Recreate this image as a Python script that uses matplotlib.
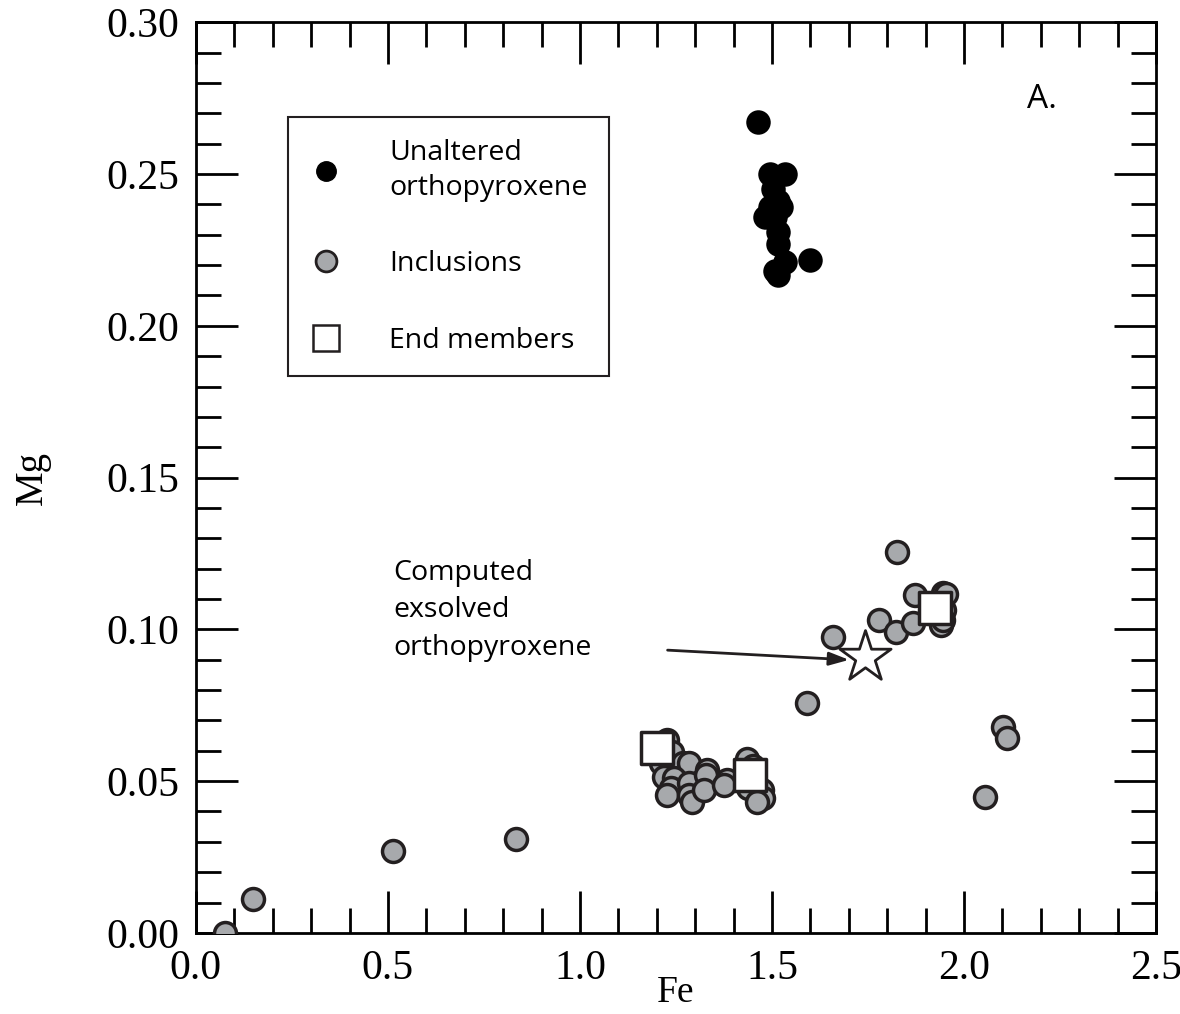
import matplotlib.pyplot as plt
from matplotlib.lines import Line2D

# unaltered orthopyroxene (black)
opx_fe = [1.463, 1.495, 1.534, 1.503, 1.516, 1.495, 1.523, 1.482, 1.508, 1.516, 1.516, 1.534, 1.508, 1.516, 1.599]
opx_mg = [0.267, 0.250, 0.250, 0.245, 0.241, 0.239, 0.239, 0.236, 0.236, 0.231, 0.227, 0.221, 0.218, 0.2167, 0.2216]

# inclusions (grey)
inc_fe = [0.076, 0.148, 0.513, 0.833,
          1.227, 1.240, 1.211, 1.268, 1.284, 1.219, 1.245, 1.237, 1.284, 1.227, 1.284, 1.292,
          1.331, 1.328, 1.323, 1.383, 1.375, 1.435, 1.451, 1.438, 1.474, 1.477, 1.461,
          1.591, 1.659, 1.779, 1.823, 1.867, 1.826, 1.872, 1.945, 1.953, 1.948, 1.940, 1.945,
          2.055, 2.102, 2.112]
inc_mg = [0.000, 0.011, 0.027, 0.031,
          0.0635, 0.0596, 0.056, 0.056, 0.056, 0.0514, 0.051, 0.0478, 0.0494, 0.0455, 0.0455, 0.0431,
          0.0537, 0.052, 0.0471, 0.0504, 0.0488, 0.0573, 0.0550, 0.0478, 0.0471, 0.0445, 0.0431,
          0.0757, 0.0975, 0.103, 0.099, 0.102, 0.1255, 0.1113, 0.112, 0.1115, 0.1063, 0.1014, 0.103,
          0.0448, 0.0678, 0.0642]

# end members (squares)
end_fe = [1.200, 1.443, 1.924]
end_mg = [0.061, 0.052, 0.107]

# computed exsolved orthopyroxene (star)
star_fe = [1.742]
star_mg = [0.0909]

plt.rcParams['font.family'] = 'Liberation Serif'
fig = plt.figure(figsize=(11.8, 10.14), dpi=100)
ax = fig.add_axes([0.166, 0.08, 0.8137, 0.898])

ax.scatter(opx_fe, opx_mg, s=260, c='black', edgecolors='black', linewidths=1.5, zorder=3)
ax.scatter(inc_fe, inc_mg, s=250, c='#a7a9ac', edgecolors='#231f20', linewidths=2.5, zorder=3)
ax.scatter(end_fe, end_mg, s=520, marker='s', c='white', edgecolors='#231f20', linewidths=2.5, zorder=4)
ax.scatter(star_fe, star_mg, s=1500, marker='*', c='white', edgecolors='#231f20', linewidths=2, zorder=4)

ax.set_xlim(0, 2.5)
ax.set_ylim(0, 0.30)
ax.set_xticks([0, 0.5, 1.0, 1.5, 2.0, 2.5])
ax.set_xticks([i * 0.1 for i in range(26)], minor=True)
ax.set_yticks([0, 0.05, 0.10, 0.15, 0.20, 0.25, 0.30])
ax.set_yticks([i * 0.01 for i in range(31)], minor=True)
ax.set_xticklabels(['0.0', '0.5', '1.0', '1.5', '2.0', '2.5'])
ax.set_yticklabels(['0.00', '0.05', '0.10', '0.15', '0.20', '0.25', '0.30'])
ax.tick_params(which='both', direction='in', top=True, right=True, width=2, labelsize=30, pad=12)
ax.tick_params(which='major', length=30)
ax.tick_params(which='minor', length=18)
for s in ax.spines.values():
    s.set_linewidth(2)

ax.set_xlabel('Fe', fontsize=27, labelpad=-9)
ax.set_ylabel('Mg', fontsize=28, labelpad=40)

sans = 'Open Sans'
ax.text(2.164, 0.2717, 'A.', fontsize=24, family=sans, va='baseline')

ax.annotate('', xy=(1.708, 0.0899), xytext=(1.221, 0.0932),
            arrowprops=dict(arrowstyle='-|>,head_length=1.2,head_width=0.4', color='#231f20', lw=2), zorder=5)
ax.text(0.513, 0.1063, 'Computed\nexsolved\northopyroxene', fontsize=20.5, family=sans,
        va='center', ha='left', linespacing=1.45)

handles = [
    Line2D([], [], ls='none', marker='o', ms=14, mfc='black', mec='black'),
    Line2D([], [], ls='none', marker='o', ms=15, mfc='#a7a9ac', mec='#231f20', mew=2),
    Line2D([], [], ls='none', marker='s', ms=19, mfc='white', mec='#231f20', mew=1.8),
]
leg = ax.legend(handles, ['Unaltered\northopyroxene', 'Inclusions', 'End members'],
                loc='upper left', bbox_to_anchor=(0.0958, 0.8957), frameon=True, fancybox=False,
                prop={'family': sans, 'size': 20.5}, labelspacing=1.7, handlelength=1.2,
                handletextpad=1.6, borderpad=0.75, borderaxespad=0)
leg.get_frame().set_edgecolor('#231f20')
leg.get_frame().set_linewidth(1.5)
leg.get_frame().set_alpha(1)
for t in leg.get_texts():
    t.set_linespacing(1.35)

fig.savefig('out.png', dpi=100)
